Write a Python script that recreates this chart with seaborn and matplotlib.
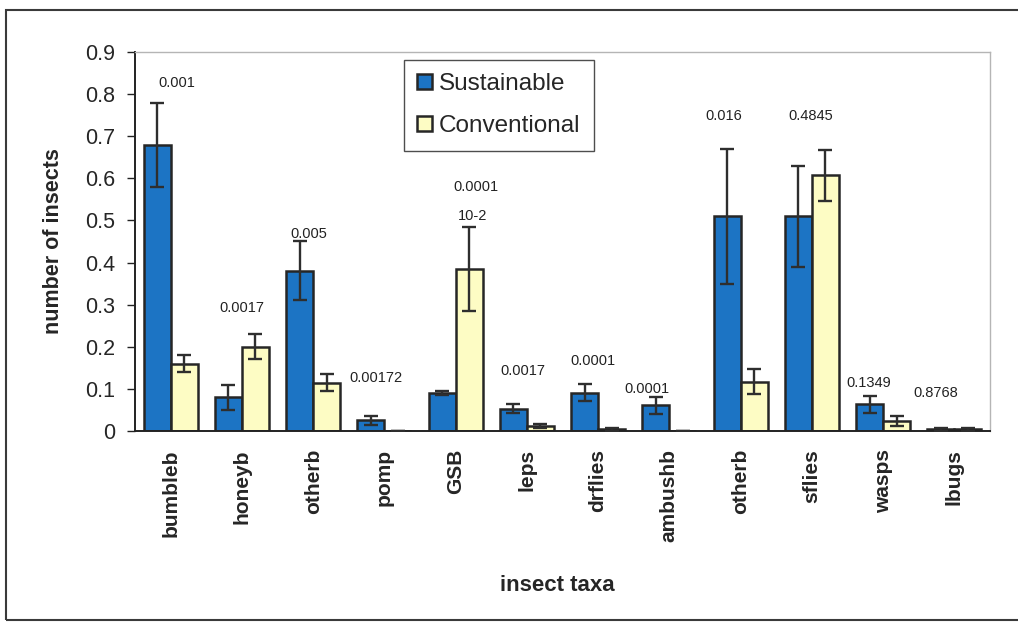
import matplotlib
matplotlib.use("Agg")
import matplotlib.pyplot as plt
import pandas as pd
import seaborn as sns
from matplotlib.patches import Rectangle
from matplotlib.ticker import FixedLocator

# ---- data -------------------------------------------------------------
taxa = ["bumbleb", "honeyb", "otherb", "pomp", "GSB", "leps", "drflies",
        "ambushb", "otherb", "sflies", "wasps", "lbugs"]
groups = ["Sustainable", "Conventional"]

sustainable = [0.68, 0.08, 0.38, 0.025, 0.09, 0.053, 0.091, 0.061, 0.51, 0.51, 0.063, 0.004]
sustainable_err = [0.10, 0.03, 0.07, 0.010, 0.005, 0.010, 0.020, 0.020, 0.16, 0.12, 0.020, 0.003]
conventional = [0.16, 0.20, 0.115, 0.001, 0.385, 0.011, 0.004, 0.001, 0.117, 0.607, 0.023, 0.004]
conventional_err = [0.02, 0.03, 0.02, 0.0, 0.10, 0.005, 0.003, 0.0, 0.03, 0.06, 0.012, 0.003]

p_labels = ["0.001", "0.0017", "0.005", "0.00172", "0.0001", "0.0017",
            "0.0001", "0.0001", "0.016", "0.4845", "0.1349", "0.8768"]
extra_note = "10-2"  # second note above the GSB pair

# placement of the p-value notes (offset from category centre, height)
p_dx = [0.09, 0.0, -0.06, -0.12, 0.29, -0.05, -0.07, -0.32, -0.24, -0.02, -0.20, -0.26]
p_y = [0.827, 0.291, 0.468, 0.127, 0.579, 0.143, 0.167, 0.099, 0.748, 0.747, 0.113, 0.091]
note_pos = (4.24, 0.511)

# ---- style ------------------------------------------------------------
sns.set_theme(style="white")
plt.rcParams["font.family"] = ["Liberation Sans", "DejaVu Sans"]
colors = {"Sustainable": "#1c74c4", "Conventional": "#fdfcc4"}
edge = "#262626"

df = pd.DataFrame({
    "slot": list(range(len(taxa))) * 2,
    "group": [groups[0]] * len(taxa) + [groups[1]] * len(taxa),
    "value": sustainable + conventional,
})

fig = plt.figure(figsize=(10.18, 6.23), dpi=100)
ax = fig.add_axes([135 / 1018, 1 - 431 / 623, 855 / 1018, 379 / 623])

sns.barplot(data=df, x="slot", y="value", hue="group", hue_order=groups,
            palette=colors, saturation=1, width=0.76, edgecolor=edge,
            linewidth=1.8, errorbar=None, ax=ax, zorder=2)

# error bars at the centres of the drawn bars
for cont, errs in zip(ax.containers, [sustainable_err, conventional_err]):
    xs = [b.get_x() + b.get_width() / 2 for b in cont]
    hs = [b.get_height() for b in cont]
    ax.errorbar(xs, hs, yerr=errs, fmt="none", ecolor="#2e2e2e",
                elinewidth=1.7, capsize=4.7, capthick=1.7, zorder=3)

ax.set_xlim(-0.5, len(taxa) - 0.5)
ax.set_ylim(0, 0.9)
ax.set_yticks([i / 10 for i in range(10)])
ax.set_yticklabels(["0"] + [f"{i / 10:.1f}" for i in range(1, 10)], fontsize=15.5)

ax.set_xticks(range(len(taxa)))
ax.set_xticklabels(taxa, rotation=90, fontsize=15, fontweight="bold", va="top")
ax.xaxis.set_minor_locator(FixedLocator([i - 0.5 for i in range(len(taxa) + 1)]))
ax.tick_params(axis="x", which="major", length=0, pad=13)
ax.tick_params(axis="x", which="minor", length=6, width=1, color="#222", direction="out")
ax.tick_params(axis="y", length=6, width=1, color="#222", direction="out", pad=8, left=True)

for side in ("left", "bottom"):
    ax.spines[side].set_color("#222")
    ax.spines[side].set_linewidth(1.4)
for side in ("top", "right"):
    ax.spines[side].set_color("#b5b5b5")
    ax.spines[side].set_linewidth(1.0)

ax.set_ylabel("number of insects", fontsize=15.5, fontweight="bold")
ax.yaxis.set_label_coords(-0.083, 0.5)
ax.set_xlabel("insect taxa", fontsize=16, fontweight="bold")
ax.xaxis.set_label_coords(0.494, -0.38)

# p-value notes
for i, (lab, dx, y) in enumerate(zip(p_labels, p_dx, p_y)):
    ax.text(i + dx, y, lab, ha="center", va="center", fontsize=10.5, color="#222")
ax.text(note_pos[0], note_pos[1], extra_note, ha="center", va="center",
        fontsize=10.5, color="#222")

# legend
handles = [Rectangle((0, 0), 1, 1, facecolor=colors[g], edgecolor=edge, linewidth=1.8)
           for g in groups]
leg = ax.legend(handles, groups, loc="upper left", bbox_to_anchor=(0.3146, 0.979),
                borderaxespad=0, fontsize=17.5, frameon=True, fancybox=False,
                handlelength=0.6, handleheight=0.6, handletextpad=0.3,
                labelspacing=0.82, borderpad=0.55)
leg.get_frame().set_edgecolor("#222")
leg.get_frame().set_linewidth(1.0)

# page frame around the figure
fig.add_artist(Rectangle((6 / 1018, 1 - 620 / 623), 1040 / 1018, 610 / 623,
                         transform=fig.transFigure, fill=False,
                         edgecolor="#3a3a3a", linewidth=1.5, clip_on=False))

fig.savefig("out.png", dpi=100)
